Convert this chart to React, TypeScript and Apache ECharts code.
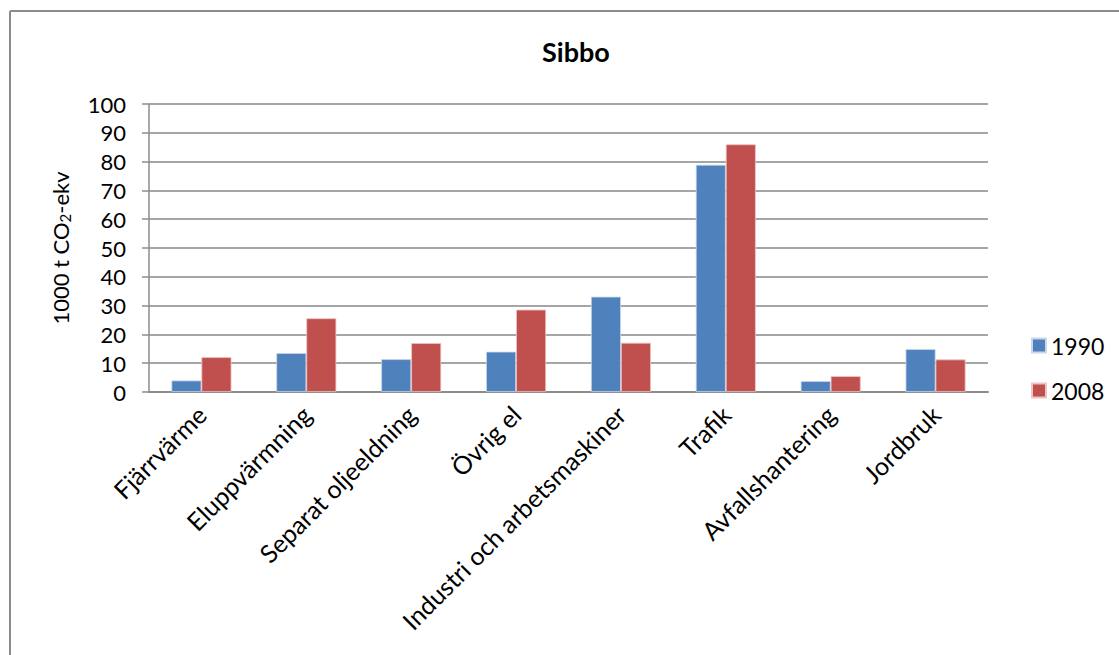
import React, { useEffect, useRef } from "react";
import * as echarts from "echarts";

const categories = [
  "Fjärrvärme",
  "Eluppvärmning",
  "Separat oljeeldning",
  "Övrig el",
  "Industri och arbetsmaskiner",
  "Trafik",
  "Avfallshantering",
  "Jordbruk",
];
const values1990 = [4.0, 13.5, 11.4, 14.0, 33.1, 78.9, 3.8, 14.9];
const values2008 = [12.1, 25.6, 17.0, 28.6, 17.1, 86.0, 5.5, 11.3];
const seriesNames = ["1990", "2008"];
const yTicks = { min: 0, max: 100, interval: 10 };

const FONT = "Lato";

export default function App() {
  const ref = useRef<HTMLDivElement>(null);
  useEffect(() => {
    if (!ref.current) return;
    const chart = echarts.init(ref.current, undefined, { renderer: "svg" });
    chart.setOption({
      animation: false,
      backgroundColor: "#ffffff",
      textStyle: { fontFamily: FONT, color: "#000" },
      title: {
        text: "Sibbo",
        left: 571,
        top: 33,
        textAlign: "center",
        textStyle: { fontFamily: FONT, fontSize: 27, fontWeight: "bold", color: "#000" },
      },
      legend: {
        orient: "vertical",
        left: 1026,
        top: 329,
        itemWidth: 14,
        itemHeight: 14,
        itemGap: 22,
        icon: "rect",
        textStyle: { fontFamily: FONT, fontSize: 23, color: "#000" },
        data: seriesNames,
      },
      grid: { left: 149, right: 131, top: 104, bottom: 263, containLabel: false },
      xAxis: {
        type: "category",
        data: categories,
        axisLine: { lineStyle: { color: "#8c8c8c", width: 2 } },
        axisTick: { show: false },
        axisLabel: {
          rotate: 45,
          interval: 0,
          fontFamily: FONT,
          fontSize: 25,
          color: "#000",
          margin: 18,
        },
      },
      yAxis: {
        type: "value",
        min: yTicks.min,
        max: yTicks.max,
        interval: yTicks.interval,
        name: "1000 t CO{sub|2}-ekv",
        nameLocation: "middle",
        nameGap: 78,
        nameRotate: 90,
        nameTextStyle: {
          fontFamily: FONT,
          fontSize: 22,
          color: "#000",
          rich: {
            sub: { fontFamily: FONT, fontSize: 15, color: "#000", padding: [0, 0, -10, 0] },
          },
        },
        axisLine: { show: true, lineStyle: { color: "#8c8c8c", width: 1.5 } },
        axisTick: { show: true, length: 7, lineStyle: { color: "#8c8c8c", width: 1.5 } },
        splitLine: { lineStyle: { color: "#a6a6a6", width: 2 } },
        axisLabel: { fontFamily: FONT, fontSize: 22, color: "#000", margin: 23 },
      },
      graphic: [
        { type: "line", shape: { x1: 10, y1: 11, x2: 1119, y2: 11 }, style: { stroke: "#8c8c8c", lineWidth: 2 } },
        { type: "line", shape: { x1: 10, y1: 11, x2: 10, y2: 655 }, style: { stroke: "#8c8c8c", lineWidth: 2 } },
      ],
      series: [
        {
          name: seriesNames[0],
          type: "bar",
          data: values1990,
          barWidth: 30,
          barGap: "0%",
          itemStyle: { color: "#4F81BD", borderColor: "#c9d7ea", borderWidth: 0.8 },
        },
        {
          name: seriesNames[1],
          type: "bar",
          data: values2008,
          barWidth: 30,
          barGap: "0%",
          itemStyle: { color: "#C0504D", borderColor: "#ecc4c3", borderWidth: 0.8 },
        },
      ],
    });
    return () => chart.dispose();
  }, []);
  return <div ref={ref} style={{ width: 1119, height: 655, position: "absolute", left: 0, top: 0 }} />;
}
